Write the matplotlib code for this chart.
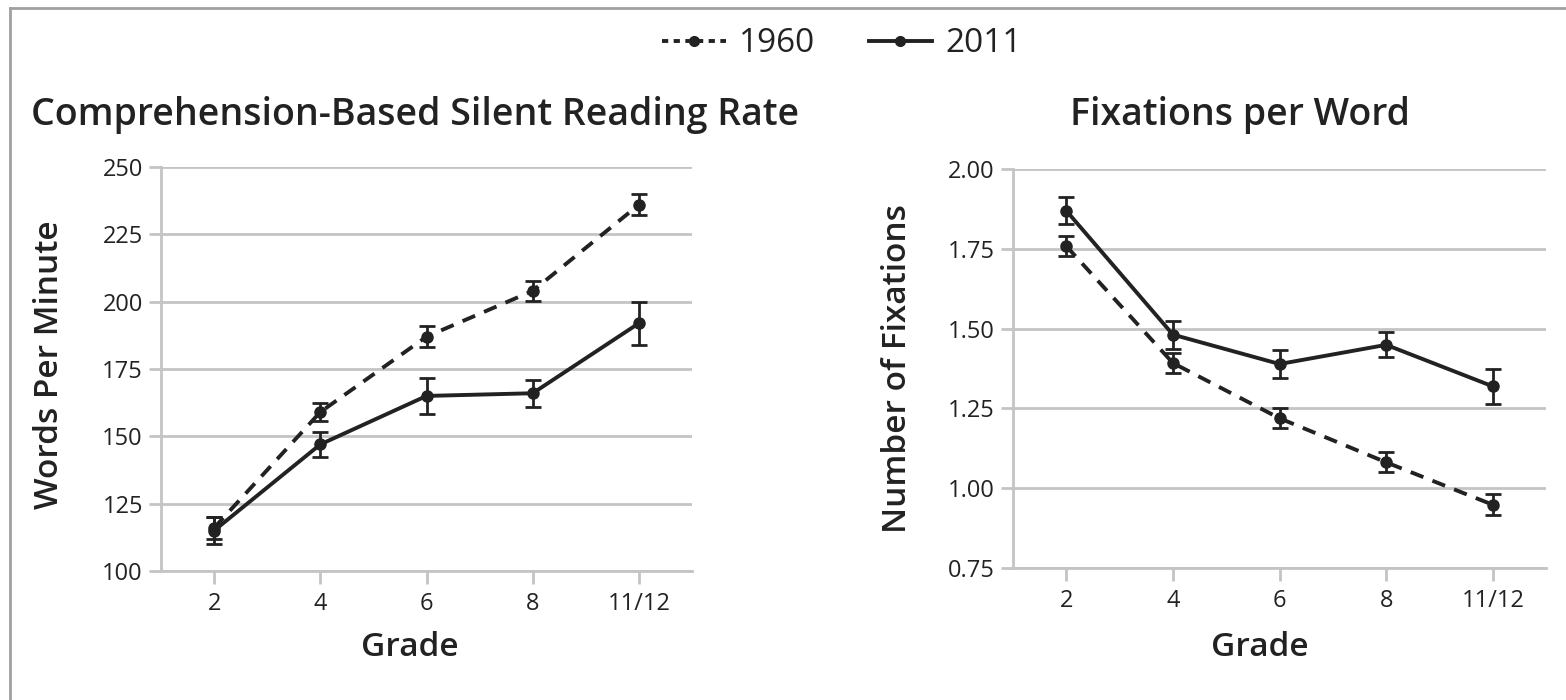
import matplotlib
matplotlib.use("Agg")
import matplotlib.pyplot as plt
from matplotlib.lines import Line2D

plt.rcParams['font.family'] = ['Open Sans', 'DejaVu Sans']

# grades on the x axis
grades = ["2", "4", "6", "8", "11/12"]

# reading rate (words per minute) with error bar half widths
wpm_1960 = [116, 159, 187, 204, 236]
wpm_1960_err = [4, 3.4, 4, 3.8, 4]
wpm_2011 = [115, 147, 165, 166, 192]
wpm_2011_err = [5, 4.7, 6.8, 5, 8]

# fixations per word with error bar half widths
fix_1960 = [1.758, 1.392, 1.219, 1.081, 0.948]
fix_1960_err = [0.032, 0.032, 0.032, 0.031, 0.033]
fix_2011 = [1.869, 1.481, 1.389, 1.449, 1.319]
fix_2011_err = [0.042, 0.044, 0.043, 0.039, 0.055]

ink = "#222222"
grid_col = "#c4c4c4"

fig = plt.figure(figsize=(15.66, 7), dpi=100)
ax1 = fig.add_axes([0.1028, 0.1843, 0.3391, 0.5771])
ax2 = fig.add_axes([0.6469, 0.1886, 0.3404, 0.570])


def draw(ax, old, old_err, new, new_err, ylim, yticks, fmt):
    x = range(len(grades))
    ax.errorbar(x, old, yerr=old_err, color=ink, lw=2.8, ls=(0, (3.5, 2.5)),
                marker="o", ms=8, capsize=6, elinewidth=2, capthick=2, zorder=3)
    ax.errorbar(x, new, yerr=new_err, color=ink, lw=2.8, ls="-",
                marker="o", ms=8, capsize=6, elinewidth=2, capthick=2, zorder=3)
    ax.set_xlim(-0.5, len(grades) - 0.5)
    ax.set_ylim(*ylim)
    ax.set_yticks(yticks)
    ax.set_yticklabels([fmt.format(v) for v in yticks])
    ax.set_xticks(list(x))
    ax.set_xticklabels(grades)
    ax.grid(axis="y", color=grid_col, lw=2)
    ax.set_axisbelow(True)
    for s in ["top", "right"]:
        ax.spines[s].set_visible(False)
    for s in ["left", "bottom"]:
        ax.spines[s].set_color(grid_col)
        ax.spines[s].set_linewidth(2)
    ax.tick_params(axis="both", colors=grid_col, width=2, length=9,
                   labelcolor=ink, labelsize=17)
    ax.tick_params(axis="x", pad=6)
    ax.tick_params(axis="y", pad=4)


draw(ax1, wpm_1960, wpm_1960_err, wpm_2011, wpm_2011_err,
     (100, 250), [100, 125, 150, 175, 200, 225, 250], "{:.0f}")
draw(ax2, fix_1960, fix_1960_err, fix_2011, fix_2011_err,
     (0.75, 2.0), [0.75, 1.0, 1.25, 1.5, 1.75, 2.0], "{:.2f}")

# titles and axis labels
fig.text(415 / 1566, 1 - 115 / 700, "Comprehension-Based Silent Reading Rate",
         ha="center", va="center", fontsize=27, weight="semibold", color=ink)
fig.text(1240 / 1566, 1 - 115 / 700, "Fixations per Word",
         ha="center", va="center", fontsize=27, weight="semibold", color=ink)
fig.text(50 / 1566, 1 - 365 / 700, "Words Per Minute", rotation=90,
         ha="center", va="center", fontsize=24, weight="semibold", color=ink)
fig.text(898 / 1566, 1 - 369 / 700, "Number of Fixations", rotation=90,
         ha="center", va="center", fontsize=24, weight="semibold", color=ink)
fig.text(410 / 1566, 1 - 647 / 700, "Grade",
         ha="center", va="center", fontsize=24, weight="semibold", color=ink)
fig.text(1260 / 1566, 1 - 647 / 700, "Grade",
         ha="center", va="center", fontsize=24, weight="semibold", color=ink)

# legend
handles = [Line2D([], [], color=ink, lw=2.8, ls=(0, (1.6, 1.4)), marker="o", ms=7),
           Line2D([], [], color=ink, lw=2.8, ls="-", marker="o", ms=7)]
fig.legend(handles, ["1960", "2011"], loc="center", ncol=2,
           bbox_to_anchor=(842 / 1566, 1 - 44 / 700), frameon=False,
           fontsize=24, handlelength=1.9, columnspacing=1.6, handletextpad=0.4,
           labelcolor=ink)

# outer frame (top and left edges only)
fig.add_artist(Line2D([10 / 1566, 1], [1 - 8 / 700, 1 - 8 / 700],
                      color="#a0a0a0", lw=2, transform=fig.transFigure))
fig.add_artist(Line2D([10 / 1566, 10 / 1566], [0, 1 - 8 / 700],
                      color="#a0a0a0", lw=2, transform=fig.transFigure))

fig.savefig("out.png", dpi=100)
